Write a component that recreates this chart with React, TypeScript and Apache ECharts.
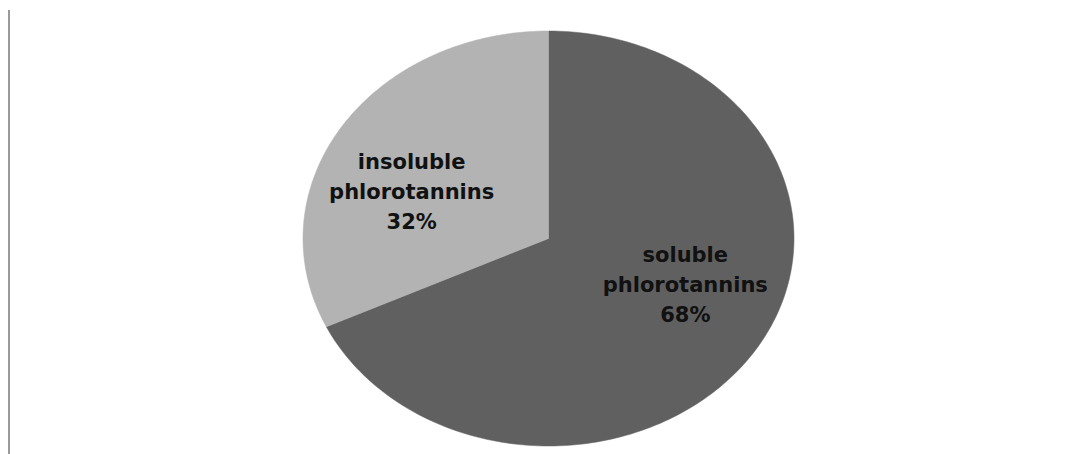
import React, { useEffect, useRef } from "react";
import * as echarts from "echarts";

const categories = ["soluble phlorotannins", "insoluble phlorotannins"];
const values = [68, 32];
const colors = ["#606060", "#b3b3b3"];

export default function App() {
  const ref = useRef<HTMLDivElement>(null);
  useEffect(() => {
    if (!ref.current) return;
    const chart = echarts.init(ref.current, null, { renderer: "svg" });
    const total = values.reduce((a, b) => a + b, 0);
    const cx = 548.5;
    const cy = 238.5;
    const rx = 245.5;
    const ry = 207.5;
    const fx = 0.66;
    const fy = 0.42;
    const renderItem = (params: any, api: any) => {
      const i = params.dataIndex;
      const v = api.value(0);
      let before = 0;
      for (let k = 0; k < i; k++) before += values[k];
      const a0 = (before / total) * Math.PI * 2;
      const a1 = ((before + v) / total) * Math.PI * 2;
      const pts: number[][] = [[cx, cy]];
      const n = 200;
      for (let s = 0; s <= n; s++) {
        const a = a0 + ((a1 - a0) * s) / n;
        pts.push([cx + rx * Math.sin(a), cy - ry * Math.cos(a)]);
      }
      const am = (a0 + a1) / 2;
      const lx = cx + rx * fx * Math.sin(am);
      const ly = cy - ry * fy * Math.cos(am);
      const pct = Math.round((v / total) * 100);
      return {
        type: "group",
        children: [
          {
            type: "polygon",
            shape: { points: pts },
            style: { fill: colors[i], stroke: colors[i], lineWidth: 0.5 },
          },
          {
            type: "text",
            z2: 10,
            style: {
              text: categories[i].replace(" ", "\n") + "\n" + pct + "%",
              x: lx,
              y: ly,
              align: "center",
              verticalAlign: "middle",
              fontSize: 21,
              fontWeight: "bold",
              fontFamily: "DejaVu Sans",
              lineHeight: 30,
              fill: "#111",
            },
          },
        ],
      };
    };
    chart.setOption({
      animation: false,
      backgroundColor: "#ffffff",
      graphic: [
        {
          type: "line",
          shape: { x1: 9, y1: 10, x2: 9, y2: 454 },
          style: { stroke: "#9a9a9a", lineWidth: 2 },
        },
      ],
      series: [
        {
          type: "custom",
          coordinateSystem: "none",
          data: values.map((v, i) => ({ name: categories[i], value: [v] })),
          renderItem,
        },
      ],
    });
    return () => chart.dispose();
  }, []);
  return (
    <div
      ref={ref}
      style={{ position: "absolute", left: 0, top: 0, width: 1076, height: 454 }}
    />
  );
}
